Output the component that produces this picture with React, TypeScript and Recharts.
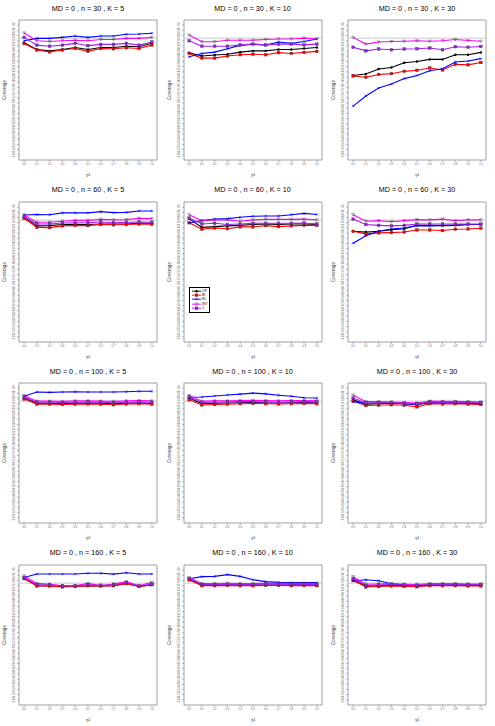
import { LineChart, Line, XAxis, YAxis, ReferenceLine, ReferenceArea, Legend } from "recharts";

const tau = [0.0, 0.1, 0.2, 0.3, 0.4, 0.5, 0.6, 0.7, 0.8, 0.9, 1.0];
const coverageTicks = [
  0.5, 0.52, 0.54, 0.56, 0.58, 0.6, 0.62, 0.64, 0.66, 0.68, 0.7, 0.72, 0.74,
  0.76, 0.78, 0.8, 0.82, 0.84, 0.86, 0.88, 0.9, 0.92, 0.94, 0.96, 0.98, 1.0,
];
const seriesNames = ["OP", "BI", "RL", "INT", "J"];
const seriesColors = ["#000000", "#ff0000", "#0000ff", "#ff00ff", "#a020f0"];
const sampleSizes = [30, 60, 100, 160];
const studyCounts = [5, 10, 30];

// each panel: rows in order OP, BI, RL, INT, J
const n30_k5 = [
  [0.932, 0.906, 0.901, 0.906, 0.914, 0.906, 0.914, 0.914, 0.919, 0.917, 0.930],
  [0.929, 0.904, 0.897, 0.904, 0.910, 0.899, 0.910, 0.909, 0.913, 0.910, 0.923],
  [0.940, 0.949, 0.949, 0.953, 0.958, 0.953, 0.958, 0.958, 0.965, 0.966, 0.969],
  [0.970, 0.940, 0.937, 0.940, 0.942, 0.940, 0.945, 0.945, 0.949, 0.949, 0.953],
  [0.953, 0.923, 0.919, 0.923, 0.930, 0.921, 0.926, 0.926, 0.930, 0.923, 0.935],
];
const n30_k10 = [
  [0.894, 0.881, 0.885, 0.888, 0.896, 0.901, 0.901, 0.906, 0.906, 0.910, 0.914],
  [0.891, 0.873, 0.873, 0.881, 0.886, 0.888, 0.886, 0.894, 0.891, 0.895, 0.899],
  [0.878, 0.891, 0.896, 0.909, 0.922, 0.927, 0.923, 0.935, 0.930, 0.937, 0.947],
  [0.962, 0.936, 0.936, 0.942, 0.942, 0.942, 0.945, 0.947, 0.947, 0.950, 0.947],
  [0.940, 0.919, 0.919, 0.919, 0.924, 0.927, 0.924, 0.927, 0.927, 0.924, 0.927],
];
const n30_k30 = [
  [0.806, 0.812, 0.831, 0.837, 0.855, 0.860, 0.868, 0.868, 0.886, 0.886, 0.895],
  [0.804, 0.799, 0.810, 0.813, 0.822, 0.826, 0.835, 0.827, 0.849, 0.847, 0.856],
  [0.688, 0.727, 0.758, 0.773, 0.794, 0.806, 0.824, 0.832, 0.858, 0.862, 0.871],
  [0.953, 0.927, 0.935, 0.937, 0.938, 0.940, 0.938, 0.940, 0.945, 0.941, 0.938],
  [0.915, 0.901, 0.908, 0.905, 0.908, 0.909, 0.912, 0.905, 0.917, 0.915, 0.918],
];
const n60_k5 = [
  [0.961, 0.928, 0.929, 0.933, 0.934, 0.933, 0.935, 0.935, 0.935, 0.938, 0.938],
  [0.957, 0.922, 0.921, 0.928, 0.930, 0.929, 0.933, 0.932, 0.933, 0.935, 0.934],
  [0.970, 0.972, 0.971, 0.978, 0.978, 0.978, 0.983, 0.979, 0.980, 0.985, 0.985],
  [0.970, 0.942, 0.942, 0.946, 0.949, 0.949, 0.953, 0.951, 0.952, 0.957, 0.956],
  [0.963, 0.935, 0.935, 0.939, 0.940, 0.940, 0.943, 0.940, 0.942, 0.943, 0.942],
];
const n60_k10 = [
  [0.956, 0.922, 0.925, 0.928, 0.930, 0.933, 0.935, 0.933, 0.935, 0.935, 0.933],
  [0.940, 0.915, 0.920, 0.917, 0.924, 0.924, 0.929, 0.925, 0.928, 0.930, 0.930],
  [0.939, 0.948, 0.954, 0.956, 0.961, 0.965, 0.966, 0.966, 0.971, 0.976, 0.972],
  [0.971, 0.948, 0.951, 0.951, 0.946, 0.951, 0.953, 0.953, 0.953, 0.954, 0.951],
  [0.958, 0.935, 0.938, 0.933, 0.935, 0.938, 0.938, 0.938, 0.938, 0.939, 0.935],
];
const n60_k30 = [
  [0.907, 0.904, 0.907, 0.913, 0.917, 0.930, 0.930, 0.929, 0.930, 0.933, 0.933],
  [0.907, 0.897, 0.901, 0.902, 0.904, 0.912, 0.912, 0.910, 0.915, 0.916, 0.919],
  [0.861, 0.890, 0.907, 0.916, 0.920, 0.929, 0.928, 0.930, 0.931, 0.933, 0.933],
  [0.971, 0.946, 0.948, 0.944, 0.948, 0.952, 0.951, 0.954, 0.948, 0.951, 0.951],
  [0.954, 0.933, 0.930, 0.928, 0.930, 0.935, 0.935, 0.935, 0.935, 0.935, 0.935],
];
const n100_k5 = [
  [0.962, 0.942, 0.942, 0.941, 0.942, 0.943, 0.942, 0.940, 0.942, 0.943, 0.941],
  [0.958, 0.938, 0.938, 0.937, 0.938, 0.939, 0.938, 0.936, 0.939, 0.940, 0.938],
  [0.969, 0.985, 0.984, 0.985, 0.986, 0.985, 0.985, 0.985, 0.986, 0.988, 0.988],
  [0.972, 0.950, 0.950, 0.949, 0.951, 0.951, 0.950, 0.949, 0.951, 0.952, 0.951],
  [0.966, 0.946, 0.946, 0.945, 0.946, 0.947, 0.946, 0.944, 0.946, 0.947, 0.946],
];
const n100_k10 = [
  [0.962, 0.940, 0.942, 0.943, 0.944, 0.945, 0.944, 0.943, 0.944, 0.945, 0.944],
  [0.955, 0.935, 0.937, 0.938, 0.940, 0.941, 0.940, 0.939, 0.940, 0.941, 0.940],
  [0.965, 0.966, 0.970, 0.974, 0.977, 0.981, 0.978, 0.973, 0.969, 0.963, 0.962],
  [0.972, 0.950, 0.951, 0.951, 0.952, 0.953, 0.952, 0.951, 0.952, 0.952, 0.951],
  [0.966, 0.945, 0.946, 0.947, 0.948, 0.948, 0.947, 0.946, 0.947, 0.948, 0.947],
];
const n100_k30 = [
  [0.955, 0.938, 0.940, 0.942, 0.940, 0.937, 0.944, 0.943, 0.944, 0.943, 0.942],
  [0.950, 0.933, 0.934, 0.936, 0.934, 0.928, 0.940, 0.939, 0.940, 0.938, 0.937],
  [0.948, 0.942, 0.943, 0.944, 0.940, 0.938, 0.945, 0.944, 0.944, 0.942, 0.940],
  [0.974, 0.948, 0.948, 0.947, 0.945, 0.943, 0.950, 0.949, 0.949, 0.948, 0.947],
  [0.962, 0.943, 0.944, 0.944, 0.942, 0.940, 0.947, 0.946, 0.946, 0.945, 0.944],
];
const n160_k5 = [
  [0.970, 0.940, 0.939, 0.937, 0.937, 0.940, 0.939, 0.940, 0.949, 0.937, 0.943],
  [0.967, 0.939, 0.939, 0.935, 0.937, 0.940, 0.939, 0.940, 0.948, 0.937, 0.944],
  [0.972, 0.985, 0.985, 0.985, 0.985, 0.988, 0.988, 0.985, 0.990, 0.985, 0.985],
  [0.978, 0.949, 0.946, 0.940, 0.940, 0.949, 0.940, 0.947, 0.956, 0.940, 0.953],
  [0.972, 0.944, 0.944, 0.940, 0.940, 0.944, 0.942, 0.944, 0.952, 0.939, 0.947],
];
const n160_k10 = [
  [0.965, 0.942, 0.942, 0.943, 0.942, 0.942, 0.943, 0.943, 0.942, 0.943, 0.942],
  [0.962, 0.940, 0.940, 0.941, 0.940, 0.940, 0.941, 0.941, 0.940, 0.941, 0.940],
  [0.967, 0.975, 0.976, 0.983, 0.976, 0.963, 0.956, 0.953, 0.952, 0.952, 0.952],
  [0.972, 0.948, 0.948, 0.949, 0.948, 0.948, 0.949, 0.949, 0.948, 0.949, 0.948],
  [0.968, 0.945, 0.945, 0.946, 0.945, 0.945, 0.946, 0.946, 0.945, 0.946, 0.945],
];
const n160_k30 = [
  [0.964, 0.938, 0.940, 0.942, 0.940, 0.939, 0.943, 0.943, 0.943, 0.942, 0.942],
  [0.960, 0.935, 0.937, 0.939, 0.937, 0.936, 0.940, 0.940, 0.940, 0.939, 0.939],
  [0.958, 0.963, 0.959, 0.948, 0.943, 0.940, 0.943, 0.944, 0.944, 0.943, 0.943],
  [0.975, 0.946, 0.947, 0.948, 0.946, 0.945, 0.948, 0.948, 0.948, 0.947, 0.947],
  [0.968, 0.941, 0.943, 0.945, 0.943, 0.942, 0.945, 0.945, 0.945, 0.944, 0.944],
];

const panelValues = [
  [n30_k5, n30_k10, n30_k30],
  [n60_k5, n60_k10, n60_k30],
  [n100_k5, n100_k10, n100_k30],
  [n160_k5, n160_k10, n160_k30],
];

const FONT = "'Liberation Sans', Arial, Helvetica, sans-serif";
const PW = 165;
const PH = 181;

const Marker = ({ cx, cy, kind }: any) => {
  if (cx == null || cy == null) return null;
  const color = seriesColors[kind];
  if (kind === 0) return <circle cx={cx} cy={cy} r={1.2} fill="#000" />;
  if (kind === 1)
    return <rect x={cx - 1.3} y={cy - 1.3} width={2.6} height={2.6} fill={color} stroke="#333" strokeWidth={0.4} />;
  if (kind === 2)
    return (
      <g stroke={color} strokeWidth={0.6}>
        <line x1={cx - 1.2} y1={cy - 1.2} x2={cx + 1.2} y2={cy + 1.2} />
        <line x1={cx - 1.2} y1={cy + 1.2} x2={cx + 1.2} y2={cy - 1.2} />
      </g>
    );
  if (kind === 3)
    return (
      <path d={`M${cx - 1.5},${cy - 1.1} L${cx + 1.5},${cy - 1.1} L${cx},${cy + 1.5} Z`} fill="none" stroke="#555" strokeWidth={0.5} />
    );
  return <rect x={cx - 1.3} y={cy - 1.3} width={2.6} height={2.6} fill={color} stroke="#333" strokeWidth={0.4} />;
};

const YTick = ({ x, y, payload }: any) => (
  <text
    x={x - 0.5}
    y={y}
    transform={`rotate(-90 ${x - 0.5} ${y})`}
    textAnchor="middle"
    fontSize={2.6}
    fill="#666"
    fontFamily={FONT}
  >
    {payload.value.toFixed(2)}
  </text>
);

const LegendBox = () => (
  <div
    style={{
      border: "0.8px solid #000",
      background: "#fff",
      padding: "1px 2px",
      fontFamily: FONT,
      fontSize: 3.4,
      lineHeight: "4.4px",
    }}
  >
    {seriesNames.map((name, i) => (
      <div key={name} style={{ display: "flex", alignItems: "center" }}>
        <svg width={9} height={4.4}>
          <line x1={0} y1={2.2} x2={9} y2={2.2} stroke={seriesColors[i]} strokeWidth={0.9} />
          <Marker cx={4.5} cy={2.2} kind={i} />
        </svg>
        <span style={{ marginLeft: 1.5 }}>{name}</span>
      </div>
    ))}
  </div>
);

const Panel = ({ row, col }: { row: number; col: number }) => {
  const values = panelValues[row][col];
  const data = tau.map((t, i) => {
    const d: any = { t };
    seriesNames.forEach((s, k) => {
      d[s] = values[k][i];
    });
    return d;
  });
  const showLegend = row === 1 && col === 1;
  return (
    <div style={{ position: "absolute", left: col * 164.5, top: row * 181.5, width: PW, height: PH }}>
      <div
        style={{
          position: "absolute",
          left: 19,
          width: 138,
          top: 4.6,
          textAlign: "center",
          fontFamily: FONT,
          fontSize: 7.2,
          lineHeight: 1,
          whiteSpace: "nowrap",
        }}
      >
        {`MD = 0 , n = ${sampleSizes[row]} , K = ${studyCounts[col]}`}
      </div>
      <LineChart width={PW} height={PH} data={data} margin={{ top: 20, right: 8, left: 0, bottom: 0 }}>
        <XAxis
          dataKey="t"
          type="number"
          domain={[-0.04, 1.04]}
          ticks={tau}
          interval={0}
          height={21}
          axisLine={false}
          tickLine={{ stroke: "#777", strokeWidth: 0.5 }}
          tickSize={2}
          tickMargin={1.5}
          tick={{ fontSize: 2.8, fill: "#666", fontFamily: FONT }}
          tickFormatter={(v: number) => v.toFixed(1)}
          label={{ value: "τ²", position: "insideBottom", offset: 4, style: { fontSize: 5.5, fontFamily: FONT, fill: "#333" } }}
        />
        <YAxis
          type="number"
          domain={[0.48, 1.02]}
          ticks={coverageTicks}
          interval={0}
          width={19}
          axisLine={false}
          tickLine={{ stroke: "#777", strokeWidth: 0.5 }}
          tickSize={2}
          tickMargin={1.5}
          tick={<YTick />}
          label={{
            value: "Coverage",
            angle: -90,
            position: "insideLeft",
            offset: 4.5,
            style: { fontSize: 4.6, fontFamily: FONT, fill: "#333", textAnchor: "middle" },
          }}
        />
        <ReferenceArea x1={-0.04} x2={1.04} y1={0.48} y2={1.02} fill="none" stroke="#888" strokeWidth={0.8} ifOverflow="visible" />
        <ReferenceLine y={0.95} stroke="#c8c8c8" strokeWidth={1} />
        {seriesNames.map((s, k) => (
          <Line
            key={s}
            dataKey={s}
            stroke={seriesColors[k]}
            strokeWidth={1.1}
            isAnimationActive={false}
            dot={(p: any) => <Marker key={`${s}-${p.index}`} cx={p.cx} cy={p.cy} kind={k} />}
          />
        ))}
        {showLegend && (
          <Legend
            layout="vertical"
            align="center"
            verticalAlign="middle"
            content={() => <LegendBox />}
            wrapperStyle={{ left: 24, top: 105, width: "auto", height: "auto" }}
          />
        )}
      </LineChart>
    </div>
  );
};

export default function App() {
  return (
    <div style={{ position: "absolute", left: 0, top: 0, width: 495, height: 726, background: "#fff" }}>
      {sampleSizes.map((_, r) => studyCounts.map((__, c) => <Panel key={`${r}-${c}`} row={r} col={c} />))}
    </div>
  );
}
